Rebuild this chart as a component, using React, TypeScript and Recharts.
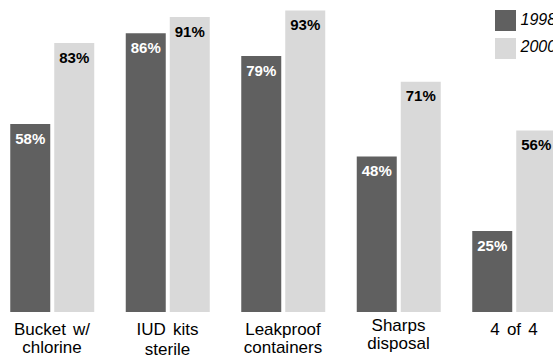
import { BarChart, Bar, XAxis, YAxis, Legend, LabelList } from 'recharts';

const categories = ['Bucket w/\nchlorine', 'IUD kits\nsterile', 'Leakproof\ncontainers', 'Sharps\ndisposal', '4 of 4'];
const values1998 = [58, 86, 79, 48, 25];
const values2000 = [83, 91, 93, 71, 56];
const seriesNames = ['1998', '2000'];

const DARK = '#606060';
const LIGHT = '#d9d9d9';
const FONT = '"Liberation Sans", Arial, Helvetica, sans-serif';

const data = categories.map((name, i) => ({
  name,
  y1998: values1998[i],
  y2000: values2000[i],
}));

// small vertical nudges so the wrapped labels sit like the original slide
const tickNudge: Record<number, number> = { 3: -4.5 };

function CategoryTick({ x, y, payload, index }: any) {
  const lines = String(payload.value).split('\n');
  const nudge = tickNudge[index] ?? 0;
  return (
    <text
      x={x}
      y={y + 23 + nudge}
      textAnchor="middle"
      fill="#000"
      fontSize={17}
      fontFamily={FONT}
      style={{ wordSpacing: 2.5 }}
    >
      {lines.map((line, i) => (
        <tspan key={i} x={x} dy={i === 0 ? 0 : index === 1 ? 20 : 18}>
          {line}
        </tspan>
      ))}
    </text>
  );
}

function LegendBox() {
  const colors = [DARK, LIGHT];
  return (
    <div style={{ display: 'flex', flexDirection: 'column', gap: 6.5, lineHeight: 1 }}>
      {seriesNames.map((name, i) => (
        <div key={name} style={{ display: 'flex', alignItems: 'center', height: 21 }}>
          <span style={{ width: 21, height: 21, background: colors[i], display: 'inline-block', flex: 'none' }} />
          <span
            style={{
              marginLeft: 4.5,
              position: 'relative',
              top: -1,
              fontFamily: FONT,
              fontStyle: 'italic',
              fontSize: 16,
              color: '#000',
              whiteSpace: 'nowrap',
            }}
          >
            {name}
          </span>
        </div>
      ))}
    </div>
  );
}

export default function App() {
  return (
    <div
      style={{
        position: 'absolute',
        left: 0,
        top: 0,
        width: 553,
        height: 356,
        overflow: 'hidden',
        background: '#fff',
      }}
    >
      <BarChart
        width={553}
        height={356}
        data={data}
        margin={{ top: -12.2, right: -18.75, bottom: 0, left: -5.75 }}
        barSize={40}
        barGap={4}
        style={{ fontFamily: FONT }}
      >
        <XAxis
          dataKey="name"
          axisLine={false}
          tickLine={false}
          tickSize={0}
          tickMargin={0}
          height={44}
          interval={0}
          tick={<CategoryTick />}
        />
        <YAxis hide domain={[0, 100]} />
        <Legend
          layout="vertical"
          align="center"
          verticalAlign="middle"
          content={<LegendBox />}
          wrapperStyle={{ left: 495, top: 10, width: 'auto', margin: 0, padding: 0 }}
        />
        <Bar dataKey="y1998" name="1998" fill={DARK} isAnimationActive={false}>
          <LabelList
            dataKey="y1998"
            position="insideTop"
            offset={9}
            fill="#fff"
            fontSize={15}
            fontWeight="bold"
            formatter={(v: any) => `${v}%`}
          />
        </Bar>
        <Bar dataKey="y2000" name="2000" fill={LIGHT} isAnimationActive={false}>
          <LabelList
            dataKey="y2000"
            position="insideTop"
            offset={9}
            fill="#000"
            fontSize={15}
            fontWeight="bold"
            formatter={(v: any) => `${v}%`}
          />
        </Bar>
      </BarChart>
    </div>
  );
}
